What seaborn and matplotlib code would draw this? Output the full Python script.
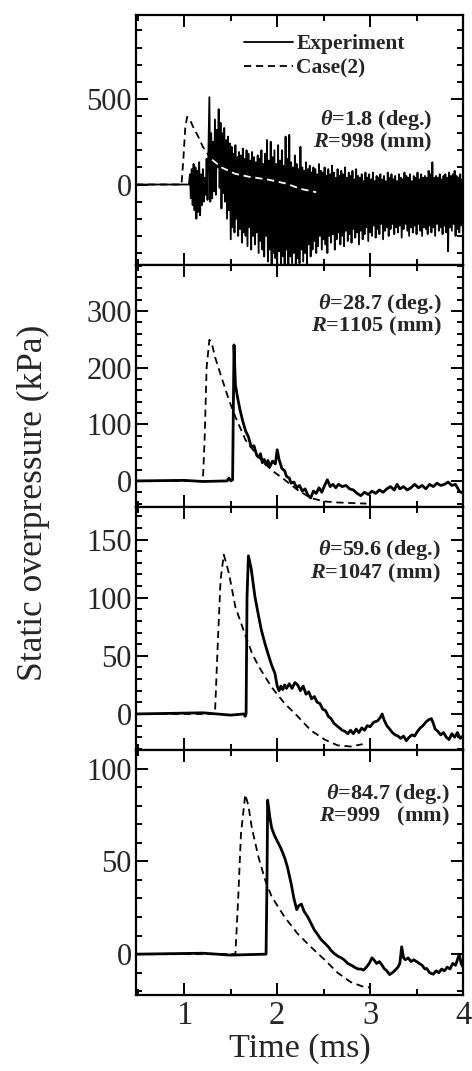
import numpy as np
import matplotlib
matplotlib.use("Agg")
import matplotlib.pyplot as plt
from matplotlib.ticker import MultipleLocator, FixedLocator
import seaborn as sns

sns.set_style("ticks")
plt.rcParams['font.family'] = ['Liberation Serif', 'DejaVu Serif']
plt.rcParams['mathtext.fontset'] = 'custom'
plt.rcParams['mathtext.it'] = 'Liberation Serif:italic:bold'
plt.rcParams['mathtext.rm'] = 'Liberation Serif:bold'
plt.rcParams['mathtext.bf'] = 'Liberation Serif:bold'

# ---------------- data ----------------
x_ticks = [1, 2, 3, 4]
x_tick_labels = ["1", "2", "3", "4"]

# Panel 1 (theta = 1.8 deg) -- experiment, sampled every 0.01 ms from 1.05 ms
exp1_pre_t = [0.48, 1.04]
exp1_pre_v = [0, 0]
exp1_start = 1.05
exp1_step = 0.01
exp1_vals = [
    0, 60, -80, 90, -120,
    120, -150, 100, -200, 80, -160, 130, -180, 60, -120,
    90, -100, 40, -60, 150, -90, 200, 510, -100, 300,
    -80, 250, -40, 380, -60, 320, 100, 440, -20, 360,
    -140, 300, -50, 330, -100, 260, -200, 280, -150, 240,
    -320, 220, -250, 180, -280, 230, -200, 160, -300, 190,
    -260, 170, -340, 210, -280, 150, -300, 200, -360, 180,
    -250, 140, -380, 190, -300, 160, -350, 130, -280, 170,
    -400, 150, -330, 200, -380, 120, -420, 180, -300, 260,
    -450, 140, -380, 250, -470, 160, -400, 200, -430, 120,
    -470, 230, -390, 140, -460, 200, -420, 110, -470, 280,
    -380, 150, -470, 290, -420, 130, -460, 100, -400, 170,
    -470, 120, -430, 90, -460, 220, -380, 100, -450, 80,
    -400, 130, -470, 90, -350, 110, -420, 70, -380, 100,
    -330, 90, -400, 60, -360, 120, -300, 80, -380, 70,
    -320, 100, -350, 50, -400, 90, -300, 60, -340, 110,
    -290, 70, -380, 40, -320, 90, -280, 50, -350, 80,
    -300, 60, -360, 100, -270, 40, -330, 70, -290, 50,
    -340, 80, -260, 30, -310, 90, -280, 50, -350, 40,
    -270, 60, -320, 20, -290, 70, -250, 40, -330, 60,
    -280, 30, -300, 70, -240, 20, -310, 50, -260, 40,
    -290, 60, -230, 30, -320, 50, -270, 20, -250, 70,
    -300, 40, -260, 60, -230, 30, -290, 50, -250, 20,
    -280, 60, -240, 40, -310, 30, -260, 70, -230, 50,
    -270, 40, -300, 60, -250, 20, -280, 50, -240, 40,
    -290, 70, -230, 30, -270, 60, -300, 40, -250, 50,
    -260, 40, -290, 80, -240, 60, -280, 130, -250, 40,
    -300, 50, -230, 40, -270, 60, -250, 30, -290, 50,
    -240, 60, -280, 40, -390, 70, -250, 50, -270, 60,
    -230, 80, -300, 50, -260, 40, -280, 60, -240, 30,
    -200,
]
case1_t = [0.48, 0.97, 0.99, 1.01, 1.03, 1.06, 1.10, 1.15, 1.20, 1.25, 1.30,
           1.40, 1.55, 1.70, 1.90, 2.10, 2.25, 2.42]
case1_v = [0, 0, 150, 330, 395, 380, 330, 280, 220, 180, 145,
           100, 62, 45, 29, 5, -25, -45]

# Panel 2 (theta = 28.7 deg)
exp2_t = [0.48, 1.00, 1.20, 1.46, 1.48, 1.50, 1.52, 1.535, 1.55, 1.57, 1.60, 1.63, 1.66,
          1.69, 1.72, 1.75, 1.78, 1.80, 1.82, 1.84, 1.86, 1.88, 1.90, 1.92, 1.95, 1.98,
          2.00, 2.02, 2.05, 2.08, 2.10, 2.13, 2.15, 2.18, 2.21, 2.24, 2.27, 2.30, 2.33,
          2.36, 2.39, 2.42, 2.45, 2.48, 2.51, 2.54, 2.57, 2.60, 2.63, 2.66, 2.70, 2.74,
          2.78, 2.82, 2.86, 2.90, 2.94, 2.98, 3.02, 3.06, 3.10, 3.14, 3.18, 3.22, 3.26,
          3.29, 3.32, 3.36, 3.40, 3.44, 3.48, 3.52, 3.56, 3.60, 3.64, 3.68, 3.72, 3.76,
          3.80, 3.84, 3.88, 3.92, 3.96, 4.00]
exp2_v = [0, 1, -1, 0, 5, 0, 2, 240, 170, 150, 125, 105, 88,
          78, 60, 62, 45, 42, 48, 32, 38, 28, 36, 25, 35, 30,
          55, 38, 22, 18, 8, 5, -4, -2, -12, -8, -18, -14, -25,
          -30, -18, -22, -12, -20, -8, 2, -10, -6, -12, -6, -10, -8,
          -14, -16, -22, -26, -20, -24, -18, -22, -16, -20, -14, -10, -16,
          -6, -14, -10, -16, -12, -6, -12, -8, -14, -6, -10, -4, -8,
          -6, -2, -8, -6, -18, -22]
case2_t = [0.48, 1.20, 1.22, 1.24, 1.27, 1.30, 1.33, 1.40, 1.48, 1.55, 1.66, 1.80,
           1.94, 2.08, 2.22, 2.36, 2.50, 2.65, 2.80, 2.96]
case2_v = [0, 0, 80, 200, 249, 240, 219, 183, 143, 113, 72, 42,
           19, 2, -16, -30, -36, -38, -39, -40]

# Panel 3 (theta = 59.6 deg)
exp3_t = [0.48, 1.20, 1.50, 1.64, 1.655, 1.665, 1.675, 1.69, 1.72, 1.76, 1.80, 1.83,
          1.87, 1.90, 1.94, 1.975, 2.00, 2.02, 2.04, 2.06, 2.08, 2.10, 2.13, 2.16, 2.19,
          2.22, 2.25, 2.28, 2.31, 2.34, 2.37, 2.40, 2.43, 2.46, 2.49, 2.52, 2.55, 2.58,
          2.61, 2.64, 2.67, 2.70, 2.73, 2.76, 2.79, 2.82, 2.85, 2.88, 2.91, 2.94, 2.97,
          3.00, 3.04, 3.08, 3.11, 3.13, 3.15, 3.18, 3.21, 3.24, 3.27, 3.30, 3.33, 3.36,
          3.39, 3.42, 3.45, 3.48, 3.51, 3.54, 3.57, 3.60, 3.63, 3.66, 3.68, 3.70, 3.73,
          3.76, 3.79, 3.82, 3.85, 3.88, 3.91, 3.94, 3.97, 4.00]
exp3_v = [0, 1, -1, 0, -2, 0, 100, 136, 125, 101, 84, 72,
          60, 52, 42, 35, 24, 20, 24, 21, 25, 22, 26, 22, 27,
          25, 20, 24, 17, 19, 13, 15, 10, 9, 4, 3, -2, -4,
          -8, -10, -12, -14, -15, -17, -14, -17, -13, -16, -12, -14, -10,
          -11, -7, -6, -3, 0, -5, -10, -13, -16, -18, -19, -21, -19,
          -23, -20, -18, -19, -15, -12, -10, -7, -5, -4, -8, -13, -15,
          -18, -16, -20, -22, -17, -20, -16, -21, -19]
case3_t = [0.48, 1.33, 1.36, 1.39, 1.425, 1.45, 1.48, 1.55, 1.66, 1.73, 1.80, 1.94,
           2.08, 2.22, 2.36, 2.51, 2.65, 2.79, 2.92]
case3_v = [0, 0, 60, 115, 137, 130, 121, 92, 67, 52, 41, 23,
           9, -2, -14, -22, -27, -28, -26]

# Panel 4 (theta = 84.7 deg)
exp4_t = [0.48, 1.20, 1.50, 1.88, 1.89, 1.897, 1.92, 1.94, 1.97, 2.01, 2.04, 2.08,
          2.11, 2.15, 2.18, 2.21, 2.23, 2.26, 2.29, 2.33, 2.36, 2.40, 2.43, 2.47, 2.51,
          2.55, 2.58, 2.61, 2.65, 2.69, 2.72, 2.76, 2.80, 2.83, 2.87, 2.90, 2.93, 2.96,
          2.99, 3.02, 3.04, 3.07, 3.10, 3.13, 3.15, 3.18, 3.21, 3.24, 3.27, 3.30, 3.32,
          3.34, 3.36, 3.38, 3.41, 3.44, 3.47, 3.50, 3.53, 3.56, 3.59, 3.61, 3.64, 3.68,
          3.71, 3.74, 3.77, 3.80, 3.83, 3.86, 3.89, 3.92, 3.94, 3.96, 3.98, 4.00]
exp4_v = [0, 0.5, -0.5, 0, 40, 83, 74, 68, 64, 60, 57, 52,
          47, 38, 30, 24, 26, 27, 23, 20, 17, 13, 11, 8, 6,
          4, 2, 0.5, -1, -2, -3, -5, -6, -7, -8, -8, -8.6, -7,
          -5, -2, -3, -5, -4, -6, -7.7, -9, -11, -10, -8.6, -7, -5,
          4, -2, -3, -2, -4, -3, -4, -5, -6, -8, -7.7, -10, -10.8,
          -9, -10, -8, -9, -7, -8, -5, -6, -3, 0, -5, -7]
case4_t = [0.48, 1.55, 1.58, 1.61, 1.656, 1.69, 1.727, 1.80, 1.87, 1.94, 2.08, 2.22,
           2.36, 2.51, 2.65, 2.79, 2.93, 3.00]
case4_v = [0, 0, 30, 65, 86, 80, 68, 52, 40, 31, 20, 11,
           4, -3, -10, -15, -17.6, -18]

theta_labels = [r"$\theta$=1.8 (deg.)", r"$\theta$=28.7 (deg.)",
                r"$\theta$=59.6 (deg.)", r"$\theta$=84.7 (deg.)"]
r_labels = [r"$R$=998 (mm)", r"$R$=1105 (mm)", r"$R$=1047 (mm)", r"$R$=999   (mm)"]
y_ticks = [[0, 500], [0, 100, 200, 300], [0, 50, 100, 150], [0, 50, 100]]
y_minor = [100, 20, 10, 10]
y_lims = [(-470, 990), (-46, 381), (-31, 178), (-22, 110)]
legend_labels = ["Experiment", "Case(2)"]

# ---------------- figure ----------------
fig = plt.figure(figsize=(4.72, 10.71), dpi=100)
gs = fig.add_gridspec(4, 1, height_ratios=[250, 242, 243, 245], hspace=0,
                      left=136/472, right=463/472, top=1-15/1071, bottom=1-995/1071)
axes = [fig.add_subplot(gs[i]) for i in range(4)]

exp1_t = exp1_pre_t + list(np.round(exp1_start + exp1_step*np.arange(len(exp1_vals)), 2))
exp1_v = exp1_pre_v + exp1_vals

exp_data = [(exp1_t, exp1_v), (exp2_t, exp2_v), (exp3_t, exp3_v), (exp4_t, exp4_v)]
case_data = [(case1_t, case1_v), (case2_t, case2_v), (case3_t, case3_v), (case4_t, case4_v)]

dash = (0, (4.0, 2.6))
ann_pos = [(0.908, 0.536), (0.936, 0.793), (0.932, 0.776), (0.960, 0.775)]

for i, ax in enumerate(axes):
    et, ev = exp_data[i]
    ct, cv = case_data[i]
    lw_e = 1.3 if i == 0 else 2.0
    sns.lineplot(x=et, y=ev, ax=ax, color="black", linewidth=lw_e, estimator=None,
                 sort=False, label=legend_labels[0] if i == 0 else None, zorder=2)
    if i == 0:
        ct_a = np.array(ct); cv_a = np.array(cv)
        m1 = ct_a <= 1.30
        m2 = ct_a >= 1.30
        sns.lineplot(x=ct_a[m1], y=cv_a[m1], ax=ax, color="black", linewidth=1.3,
                     linestyle=dash, estimator=None, sort=False,
                     label=legend_labels[1], zorder=3)
        sns.lineplot(x=ct_a[m2], y=cv_a[m2], ax=ax, color="white", linewidth=1.3,
                     linestyle=dash, estimator=None, sort=False, zorder=3)
    else:
        sns.lineplot(x=ct, y=cv, ax=ax, color="black", linewidth=1.3,
                     linestyle=dash, estimator=None, sort=False, zorder=3)
    if ax.get_legend() is not None:
        ax.get_legend().remove()

    ax.set_xlim(0.48, 4.0)
    ax.set_ylim(*y_lims[i])
    ax.xaxis.set_major_locator(FixedLocator(x_ticks))
    ax.xaxis.set_minor_locator(MultipleLocator(0.5))
    ax.yaxis.set_major_locator(FixedLocator(y_ticks[i]))
    ax.yaxis.set_minor_locator(MultipleLocator(y_minor[i]))
    ax.tick_params(which="both", direction="in", top=True, right=True, width=1.4,
                   color="black")
    ax.tick_params(which="major", length=8.5)
    ax.tick_params(which="minor", length=4.5)
    ax.tick_params(axis="y", which="major", labelsize=22, pad=3)
    ax.tick_params(axis="x", which="major", labelsize=23.5, pad=4)
    for s in ax.spines.values():
        s.set_linewidth(1.6)
        s.set_color("black")
    if i < 3:
        ax.tick_params(axis="x", labelbottom=False)
    else:
        ax.set_xticklabels(x_tick_labels)
    ax.set_xlabel("")
    ax.set_ylabel("")

    ax.text(ann_pos[i][0], ann_pos[i][1], theta_labels[i] + "\n" + r_labels[i],
            transform=ax.transAxes, ha="right", va="center", multialignment="right",
            fontsize=16, fontweight="bold", linespacing=0.98)

h, l = axes[0].get_legend_handles_labels()
axes[0].legend(h, l, loc="upper left", bbox_to_anchor=(0.27, 1.0), frameon=False,
               prop={"size": 15.5, "weight": "bold"}, handlelength=2.3,
               handletextpad=0.15, labelspacing=0.18, borderpad=0.4)

fig.text(33/472, 1-503/1071, "Static overpressure (kPa)", rotation=90,
         ha="center", va="center", fontsize=25.5)
fig.text(300/472, 1-1049/1071, "Time (ms)", ha="center", va="center", fontsize=24.5)

fig.savefig("out.png", dpi=100)
